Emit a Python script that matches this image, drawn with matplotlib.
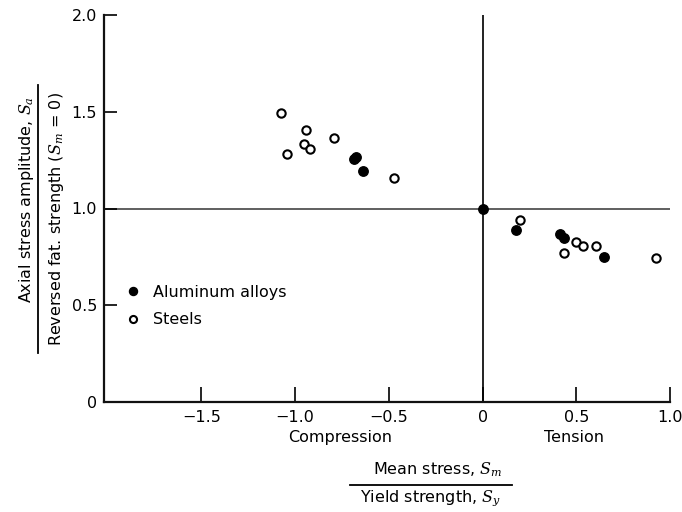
import matplotlib.pyplot as plt
from matplotlib.lines import Line2D

plt.rcParams['font.family'] = 'DejaVu Sans'
plt.rcParams['mathtext.fontset'] = 'dejavuserif'

# points
al_x = [-0.687, -0.673, -0.64, 0.0, 0.18, 0.413, 0.434, 0.648]
al_y = [1.255, 1.267, 1.193, 1.0, 0.89, 0.866, 0.845, 0.749]
st_x = [-1.075, -0.94, -0.794, -1.043, -0.955, -0.923, -0.475,
        0.20, 0.497, 0.536, 0.607, 0.436, 0.924]
st_y = [1.496, 1.405, 1.366, 1.283, 1.331, 1.31, 1.159,
        0.938, 0.828, 0.807, 0.804, 0.771, 0.745]

xticks = [-1.5, -1.0, -0.5, 0, 0.5, 1.0]
xticklabels = ['\u22121.5', '\u22121.0', '\u22120.5', '0', '0.5', '1.0']
yticks = [0, 0.5, 1.0, 1.5, 2.0]
yticklabels = ['0', '0.5', '1.0', '1.5', '2.0']

W, H = 682, 512
fs = 11.5

fig = plt.figure(figsize=(W / 100, H / 100), dpi=100)
ax = fig.add_axes([104 / W, 1 - 402 / H, (670 - 104) / W, (402 - 15) / H])
ax.set_xlim(-2.02, 1.0)
ax.set_ylim(0, 2.0)

ax.axhline(1.0, color='#444444', lw=1.2, zorder=1)
ax.axvline(0.0, color='#222222', lw=1.4, zorder=1)

ax.plot(al_x, al_y, 'o', ms=6.8, mfc='black', mec='black', mew=1.0,
        label='Aluminum alloys', zorder=3)
ax.plot(st_x, st_y, 'o', ms=6.0, mfc='white', mec='black', mew=1.5,
        label='Steels', zorder=3)

for s in ['top', 'right']:
    ax.spines[s].set_visible(False)
for s in ['left', 'bottom']:
    ax.spines[s].set_linewidth(1.6)
    ax.spines[s].set_color('#111111')

ax.set_xticks(xticks)
ax.set_xticklabels(xticklabels, fontsize=fs)
ax.set_yticks(yticks)
ax.set_yticklabels(yticklabels, fontsize=fs)
ax.tick_params(axis='x', direction='in', length=11, width=1.2, pad=6)
ax.tick_params(axis='y', direction='in', length=9.5, width=1.2, pad=5)

ax.text(-0.76, -0.093, 'Compression', transform=ax.get_xaxis_transform(),
        ha='center', va='center', fontsize=fs)
ax.text(0.49, -0.093, 'Tension', transform=ax.get_xaxis_transform(),
        ha='center', va='center', fontsize=fs)

leg = ax.legend(loc='center left', bbox_to_anchor=(0.0406, 0.248),
                frameon=False, fontsize=fs, handlelength=0.8,
                handletextpad=0.85, labelspacing=0.8, borderpad=0,
                borderaxespad=0, numpoints=1, markerscale=0.85)

# y label as a fraction
fig.text(27 / W, 1 - 200 / H, 'Axial stress amplitude, $S_a$', rotation=90,
         ha='center', va='center', fontsize=fs)
fig.text(56 / W, 1 - 219 / H, 'Reversed fat. strength ($S_m$ = 0)', rotation=90,
         ha='center', va='center', fontsize=fs)
fig.add_artist(Line2D([38 / W, 38 / W], [1 - 85 / H, 1 - 353 / H],
                      transform=fig.transFigure, color='black', lw=1.3))

# x label as a fraction
fig.text(438 / W, 1 - 470 / H, 'Mean stress, $S_m$',
         ha='center', va='center', fontsize=fs)
fig.text(431 / W, 1 - 498 / H, 'Yield strength, $S_y$',
         ha='center', va='center', fontsize=fs)
fig.add_artist(Line2D([350 / W, 512 / W], [1 - 485 / H, 1 - 485 / H],
                      transform=fig.transFigure, color='black', lw=1.3))

fig.savefig('out.png', dpi=100)
